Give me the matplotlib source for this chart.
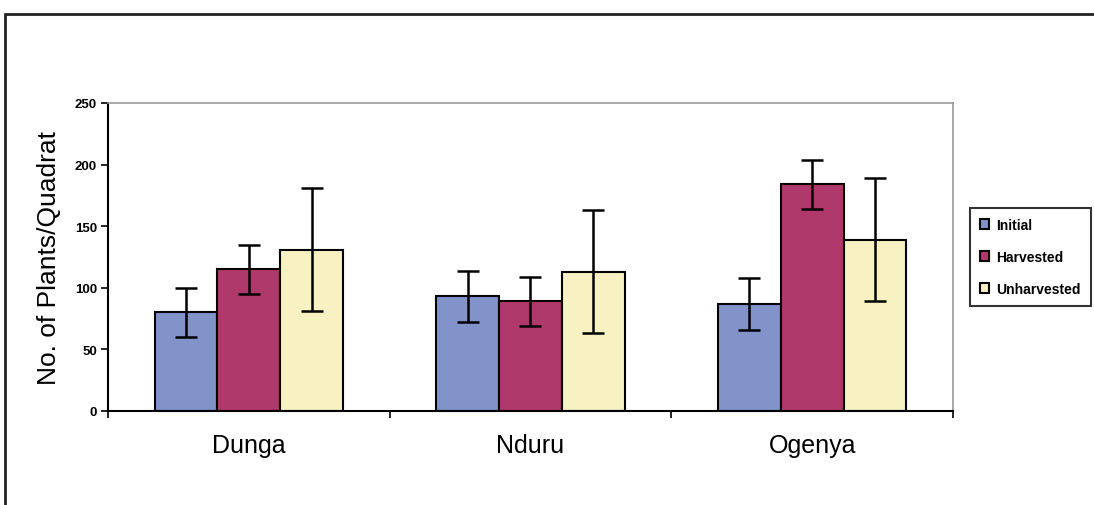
import numpy as np
import matplotlib.pyplot as plt
from matplotlib.patches import Rectangle

# data
sites = ['Dunga', 'Nduru', 'Ogenya']
initial = [80, 93, 87]
harvested = [115, 89, 184]
unharvested = [131, 113, 139]
initial_err = [20, 21, 21]
harvested_err = [20, 20, 20]
unharvested_err = [50, 50, 50]
series_names = ['Initial', 'Harvested', 'Unharvested']
colors = ['#8193C9', '#B0396C', '#F8F2C2']

plt.rcParams['font.family'] = ['Liberation Sans', 'DejaVu Sans']

fig = plt.figure(figsize=(10.94, 5.06), dpi=100)
ax = fig.add_axes([0.0987, 0.1858, 0.7724, 0.6087])

# outer chart frame
fig.patches.append(Rectangle((5 / 1094, -0.1), 1.2, (506 - 15) / 506 + 0.1,
                             transform=fig.transFigure, fill=False,
                             edgecolor='#222222', linewidth=2))

x = np.arange(len(sites))
w = 0.223
vals = [initial, harvested, unharvested]
errs = [initial_err, harvested_err, unharvested_err]
for i in range(3):
    ax.bar(x + (i - 1) * w, vals[i], w, color=colors[i], edgecolor='black',
           linewidth=1.5, label=series_names[i], zorder=2)
    ax.errorbar(x + (i - 1) * w, vals[i], yerr=errs[i], fmt='none',
                ecolor='black', elinewidth=1.8, capsize=8, capthick=1.8, zorder=3)

ax.set_xlim(-0.5, 2.5)
ax.set_ylim(0, 250)
ax.set_yticks([0, 50, 100, 150, 200, 250])
ax.set_yticklabels(['0', '50', '100', '150', '200', '250'], fontsize=9.5, fontweight='bold')
ax.set_xticks(x)
ax.set_xticklabels(sites, fontsize=18)
ax.tick_params(axis='x', length=0, pad=16)
ax.set_xticks([-0.5, 0.5, 1.5, 2.5], minor=True)
ax.tick_params(axis='x', which='minor', length=5, width=1.2)
ax.tick_params(axis='y', length=5, width=1.2, direction='out', pad=3)
ax.set_ylabel('No. of Plants/Quadrat', fontsize=19, labelpad=10)

for s in ['top', 'right']:
    ax.spines[s].set_color('#999999')
    ax.spines[s].set_linewidth(1.2)
for s in ['left', 'bottom']:
    ax.spines[s].set_color('black')
    ax.spines[s].set_linewidth(1.5)

leg = fig.legend(loc='upper left', bbox_to_anchor=(970 / 1094, 1 - 209 / 506),
                 frameon=True, fancybox=False, edgecolor='black', borderaxespad=0,
                 handlelength=0.7, handleheight=0.7, labelspacing=1.3,
                 borderpad=0.7, handletextpad=0.5, prop={'weight': 'bold', 'size': 10})
leg.get_frame().set_linewidth(1.5)

fig.savefig('out.png', dpi=100, facecolor='white')
